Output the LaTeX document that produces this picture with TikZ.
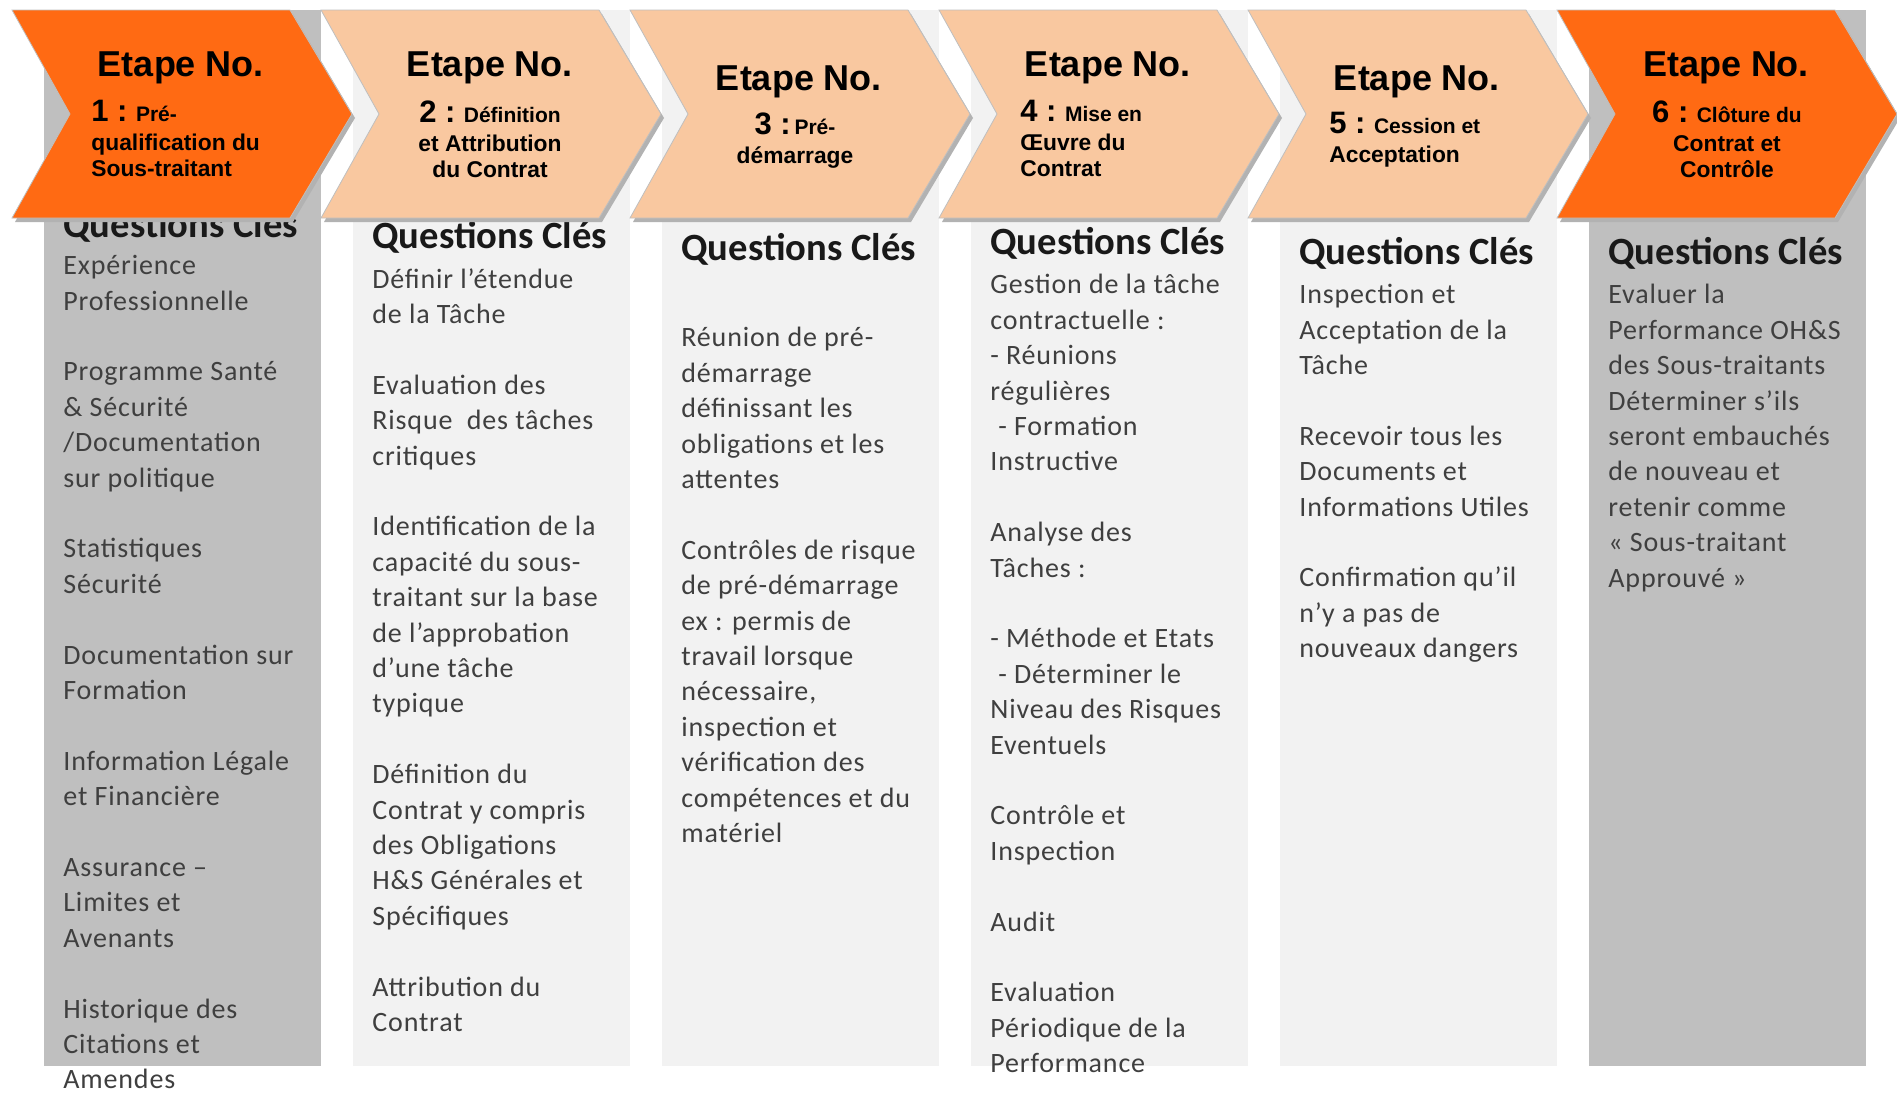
\documentclass[tikz,border=0pt]{standalone}
\usepackage{fontspec}
\setmainfont{Carlito}
\newfontfamily\stepfont{Liberation Sans}
\newfontfamily\listfont{Carlito}[LetterSpace=3]

\definecolor{orangefort}{HTML}{FF6A13}
\definecolor{peche}{HTML}{F9C8A0}
\definecolor{grisfonce}{HTML}{BFBFBF}
\definecolor{grisclair}{HTML}{F2F2F2}
\definecolor{texte}{HTML}{3F3F3F}

\newcommand\gros[1]{{\fontsize{15.5}{15.5}\selectfont #1}}
\newcommand\petit[1]{{\fontsize{10.5}{10.5}\selectfont #1}}
\newcommand\vide{\\[17.7pt]}

\begin{document}
\begin{tikzpicture}[x=0.5pt,y=-0.5pt,
    etape/.style={anchor=base,inner sep=0pt,font=\stepfont\bfseries\fontsize{18}{20}\selectfont},
    detail/.style={inner sep=0pt,execute at begin node={\rule{0pt}{12pt}},font=\stepfont\bfseries\fontsize{11.4}{13}\selectfont},
    titre/.style={anchor=base west,inner sep=0pt,text=black!90,font=\bfseries\fontsize{19.3}{22}\selectfont},
    liste/.style={anchor=north west,inner sep=0pt,align=left,text=texte,execute at begin node={\rule{0pt}{12pt}},font=\listfont\fontsize{14}{17.7}\selectfont}]
  \useasboundingbox (0,0) rectangle (1897,1093);

  % colonnes
  \foreach \c [count=\n from 0] in {grisfonce,grisclair,grisclair,grisclair,grisclair,grisfonce}
    \fill[\c] (44+309*\n,10) rectangle ++(277,1056);

  \foreach \y [count=\n] in {237,248,260,254,264,264}
    \node[titre] (titre\n) at (63+309*\n-309,\y) {Questions Clés};

  \node[liste] (liste1) at (63,255) {Expérience\\Professionnelle\vide
    Programme Santé\\\& Sécurité\\/Documentation\\sur politique\vide
    Statistiques\\Sécurité\vide
    Documentation sur\\Formation\vide
    Information Légale\\et Financière\vide
    Assurance –\\Limites et\\Avenants\vide
    Historique des\\Citations et\\Amendes};
  \node[liste] (liste2) at (372,268) {Définir l’étendue\\de la Tâche\vide
    Evaluation des\\Risque \ des tâches\\critiques\vide
    Identification de la\\capacité du sous-\\traitant sur la base\\de l’approbation\\d’une tâche\\typique\vide
    Définition du\\Contrat y compris\\des Obligations\\H\&S Générales et\\Spécifiques\vide
    Attribution du\\Contrat};
  \node[liste] (liste3) at (681,327) {Réunion de pré-\\démarrage\\définissant les\\obligations et les\\attentes\vide
    Contrôles de risque\\de pré-démarrage\\ex : permis de\\travail lorsque\\nécessaire,\\inspection et\\vérification des\\compétences et du\\matériel};
  \node[liste] (liste4) at (990,274) {Gestion de la tâche\\contractuelle :\\- Réunions\\régulières\\\hspace{4pt}- Formation\\Instructive\vide
    Analyse des\\Tâches :\vide
    - Méthode et Etats\\\hspace{4pt}- Déterminer le\\Niveau des Risques\\Eventuels\vide
    Contrôle et\\Inspection\vide
    Audit\vide
    Evaluation\\Périodique de la\\Performance};
  \node[liste] (liste5) at (1299,284) {Inspection et\\Acceptation de la\\Tâche\vide
    Recevoir tous les\\Documents et\\Informations Utiles\vide
    Confirmation qu’il\\n’y a pas de\\nouveaux dangers};
  \node[liste] (liste6) at (1608,284) {Evaluer la\\Performance OH\&S\\des Sous-traitants\\Déterminer s’ils\\seront embauchés\\de nouveau et\\retenir comme\\« Sous-traitant\\Approuvé »};

  % chevrons
  \foreach \c [count=\n from 0] in {orangefort,peche,peche,peche,peche,orangefort} {
    \fill[black!30,xshift=1.5pt,yshift=-2pt] (12+309*\n,10) -- ++(278,0) -- ++(62,104) -- ++(-62,104) -- ++(-278,0) -- ++(58,-104) -- cycle;
    \filldraw[fill=\c,draw=black!25,line width=0.4pt] (12+309*\n,10) -- ++(278,0) -- ++(62,104) -- ++(-62,104) -- ++(-278,0) -- ++(58,-104) -- cycle;
  }

  \foreach \y [count=\n] in {76,76,90,76,90,76}
    \node[etape] (etape\n) at (181+309*\n-309,\y) {Etape No.};

  \node[detail,anchor=north west,align=left] (detail1) at (91,100) {\gros{1 :} \petit{Pré-}\\[1.5pt]qualification du\\Sous-traitant};
  \node[detail,anchor=north,align=center] (detail2) at (490,100) {\gros{2 :} \petit{Définition}\\[1.5pt]et Attribution\\du Contrat};
  \node[detail,anchor=north,align=center] (detail3) at (795,112) {\gros{3 :}\,\petit{Pré-}\\[1.5pt]démarrage};
  \node[detail,anchor=north west,align=left] (detail4) at (1020,100) {\gros{4 :} \petit{Mise en}\\[1.5pt]Œuvre du\\Contrat};
  \node[detail,anchor=north west,align=left] (detail5) at (1329,112) {\gros{5 :} \petit{Cession et}\\[1.5pt]Acceptation};
  \node[detail,anchor=north,align=center] (detail6) at (1727,100) {\gros{6 :} \petit{Clôture du}\\[1.5pt]Contrat et\\Contrôle};
\end{tikzpicture}
\end{document}
